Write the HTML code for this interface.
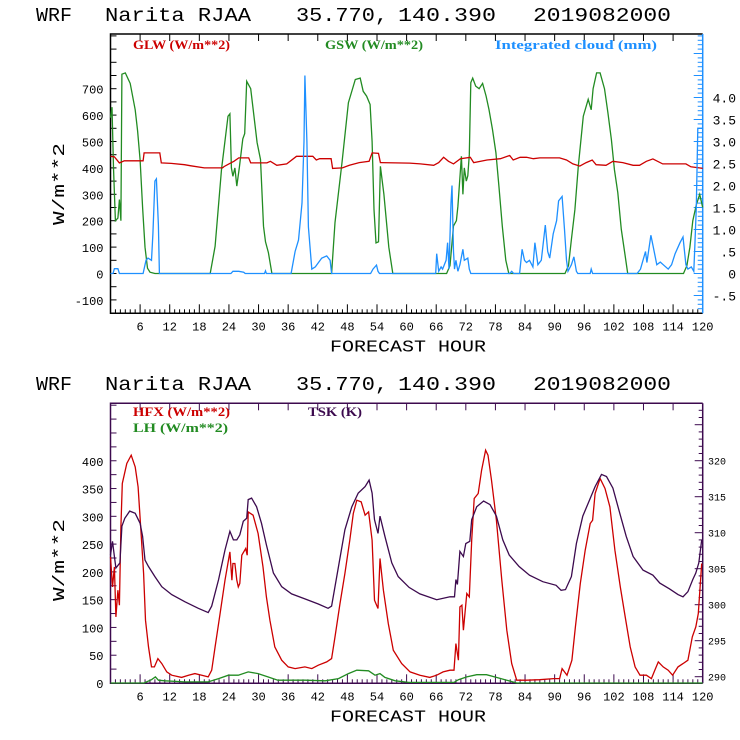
<!DOCTYPE html>
<html><head><meta charset="utf-8">
<style>
html,body{margin:0;padding:0;background:#fff;}
svg{display:block;}
text{font-family:"Liberation Mono",monospace;}
.leg{font-family:"Liberation Serif",serif;font-weight:bold;font-size:13px;}
</style></head>
<body>
<svg id="chart" width="740" height="740" viewBox="0 0 740 740" xmlns="http://www.w3.org/2000/svg">
  <rect x="0" y="0" width="740" height="740" fill="#fff"/>
</svg>
<script>
// ---------- DATA: top panel ----------
const gswHours=[0,0.3,0.6,1,1.5,1.8,2.1,2.3,3,4,5,5.5,6,6.5,7,7.5,8,9,20.2,21.2,22.5,23.8,24.2,24.5,24.8,25.2,25.6,26.1,26.8,27.2,27.6,28.4,29.7,30.4,31,31.4,32,32.7,44.8,45.5,46.9,48.2,49.6,50.6,51.2,51.9,52.6,53,53.4,53.8,54.3,54.7,55.4,56.4,57.2,68.1,68.8,69.5,70.1,70.4,71.1,71.4,71.7,72.1,72.4,72.7,73,73.4,74,74.7,75.4,76.1,76.7,77.4,78.1,78.7,79.4,80.1,80.7,92.1,92.8,93.4,94.1,94.8,95.8,96.8,97.4,97.8,98.5,99.2,100.1,100.8,101.5,102.1,102.8,103.5,104.2,104.8,116.1,116.8,117.4,118,118.7,119.4,120];
const gswVals=[590,630,400,200,210,280,200,755,760,720,620,540,430,250,100,20,5,0,0,103,394,596,605,400,368,400,331,400,510,530,728,700,496,432,179,120,79,0,0,193,420,647,735,740,690,672,640,500,242,116,120,406,300,100,0,0,30,180,200,255,444,300,400,350,370,450,723,740,710,700,720,672,621,545,458,331,179,50,0,0,30,129,242,406,596,660,620,700,760,760,700,609,507,394,306,167,79,0,0,30,100,200,260,300,250];

const glwHours=[0,0.8,1.8,2.8,6.6,6.8,10,10.3,12.3,15,16.3,19,22.7,23,24,25,26,28,28.4,31.7,32.4,33.7,35.7,37.7,41,41.7,42.4,44.7,45,47,48.4,50.4,52.4,53,54.3,54.7,60.6,62.8,65.5,66.5,67.5,68.5,69.5,70.9,72.9,73.6,76.3,79,80.9,81.6,83,84.3,85.7,87,91,92.4,93.7,95.1,96.4,97.6,98.4,100.4,101.8,103.8,105.9,107.2,108.6,109.9,111.9,113.9,116.6,117.6,119.3,120];
const glwVals=[444,442,419,427,427,457,457,419,417,412,408,400,400,405,415,425,438,438,419,419,425,410,415,444,444,430,435,435,398,400,410,420,425,457,455,420,418,415,410,420,440,425,415,435,440,420,430,435,447,430,440,440,435,438,438,430,415,407,420,430,412,410,425,420,410,410,425,434,415,415,415,404,400,398];

const cloudHours=[0,0.5,0.8,1.5,1.8,6.6,7.2,7.6,8.3,8.6,9,9.3,9.7,9.9,24.4,24.8,26,27,27.3,31.2,31.4,31.6,36.6,37.4,38.1,38.8,39.2,39.4,39.8,40.1,40.8,41.5,42.8,43.8,44.5,44.8,52.7,53.2,53.9,54.2,54.5,65.9,66.1,66.5,67,67.3,68,68.3,68.6,69,69.2,69.5,69.7,70,70.4,70.8,71.4,71.7,72.4,72.7,73,80.9,81.3,81.7,82.9,83.4,83.9,84.3,84.9,85.6,86,86.6,87.3,88.1,88.6,89,89.7,90.4,90.8,91.5,92,92.4,92.7,93.4,93.9,94.4,94.7,97.2,97.4,97.7,106.7,107.4,108.4,108.7,109.5,110,110.7,111.4,112,113,113.7,114.4,115.4,116,116.6,117,117.7,118.2,118.4,118.7,119,120];
const cloudVals=[0,0,0.11,0.11,0,0,0.3,0.35,0.3,0.9,2.1,2.15,1.1,0,0,0.05,0.05,0.03,0,0,0.06,0,0,0.5,0.76,1.6,3.0,4.5,3.0,1.06,0.1,0.15,0.35,0.4,0.3,0,0,0.1,0.19,0.05,0,0,0.45,0.05,0.15,0.1,0.3,0.7,0.1,1.6,2.0,0.5,0.1,0.3,0.05,0.2,0.55,0.3,0.35,0.1,0,0,0.05,0,0,0.55,0.3,0.25,0.3,0.15,0.7,0.2,0.3,1.1,0.5,0.35,0.9,1.2,1.65,1.75,1.0,0.3,0.05,0.2,0.38,0.05,0,0,0.1,0,0,0.1,0.5,0.25,0.87,0.6,0.2,0.26,0.2,0.1,0.2,0.45,0.7,0.83,0.2,0.1,0.15,0.05,0.6,1.5,3.3,3.3];

// ---------- DATA: bottom panel ----------
const hfxHours=[0,0.4,0.8,1.1,1.5,1.8,2.1,2.4,3.3,4.2,5,5.6,6.2,6.7,7.1,7.7,8.3,8.9,9.6,10.4,11.4,12.4,14.4,15.8,17.1,18.5,19.8,20.5,21.2,22.2,23.2,24.2,24.6,24.8,25.2,25.6,25.9,26.2,26.6,27.4,27.7,27.9,28.9,29.9,30.9,31.6,32.3,33.3,34.7,36,37.4,39.4,40.8,42.1,43.8,44.8,45.5,46.5,47.5,48.5,49.2,49.9,50.8,51.6,52.3,53,53.5,54.2,54.6,55.3,56.3,57.3,59,60.7,62.7,64.7,66.1,67.4,68.8,69.6,70,70.5,70.8,71.2,71.5,72.2,72.7,73.2,73.7,74.5,75.2,76,76.5,77.2,78.2,79.3,80.3,81.3,82.3,84.3,87,89.8,91,91.5,92.5,93.5,94.2,95.2,96.2,97.2,97.7,98.2,99.2,100.2,101.2,102.2,103.3,104.3,105.3,106.3,107.3,108.6,109.6,110.3,111,112,113,113.9,115,116,117,117.9,118.6,119.1,119.8];
const hfxVals=[227,173,209,119,167,140,281,359,395,410,389,353,269,197,113,65,29,29,44,35,20,14,10,14,17,14,11,23,65,125,185,236,185,215,215,185,173,179,230,242,230,308,302,269,209,155,113,65,41,29,26,29,26,32,38,44,83,143,197,257,305,329,326,302,308,257,149,134,224,167,107,59,35,20,14,10,14,20,23,23,71,41,137,140,95,161,155,257,332,341,383,419,410,365,293,185,95,35,5,5,6,8,8,26,14,41,101,179,239,287,293,341,368,350,317,239,173,119,65,29,14,14,8,23,38,29,23,14,29,35,41,83,101,125,215];

const tskHours=[0,0.4,0.8,1.1,1.9,2.3,2.9,3.9,5,6,6.5,7,7.7,9,10.4,12.4,15.1,17.8,19.8,20.5,21.9,23.2,24.2,24.9,25.6,26.2,26.9,27.6,27.9,28.6,29.6,30.6,31.6,33,34.7,36.7,39.4,42.1,44.1,44.8,46.2,47.5,48.9,50.2,51.6,52.4,53,53.5,54.2,54.6,55.6,57,58.3,60.5,62.7,66.1,68.8,69.7,70,70.3,70.8,71.5,72,72.8,73.2,74.2,75.6,76.9,78.2,79.5,80.8,82.8,84.9,87.6,90.3,91.3,92.2,93.4,94.4,95.7,97.1,98.2,99.5,100.5,101.8,103.2,104.5,105.9,107.9,109.9,111.3,113.3,115,116,117,118,118.6,119.2,119.8];
const tskVals=[306.9,308.8,306.7,305.1,305.8,310.9,312,313,312.7,311.3,309.5,306.2,305.3,303.9,302.5,301.4,300.4,299.5,298.9,299.8,303.5,307.6,310.2,309,309,309.7,311.6,312,314.6,314.8,313.6,311.3,308.3,304.4,302.5,301.5,300.8,300.1,299.5,299.8,305.3,310.4,313.6,315.5,316.4,317.3,315.5,311.8,309.9,312.3,309.5,305.8,303.9,302.4,301.5,300.7,301.1,301.1,303.5,302.8,307.4,306.7,308.5,308.8,311.8,313.6,314.4,313.9,312.3,309,306.9,305.3,304.1,303.2,302.7,302,302.1,303.9,308.5,312.3,314.6,316.4,318.1,317.8,316.2,312.7,309.5,306.7,304.8,304.1,303,302.2,301.4,301.1,301.8,303.5,304.4,305.8,309];

const lhHours=[0,6.8,8.3,9.1,9.7,11,15,19.8,21.9,23.9,25.9,27.9,29.9,31.9,33.9,39.4,43.5,46.2,48.2,49.9,52.3,53.6,54.6,55.6,57.7,60.4,69.6,70.5,72.2,74.2,76.2,78.2,80.3,82.3,120];
const lhVals=[0,0,6,11,5,4,2,2,8,14,14,20,17,11,5,5,4,8,17,23,22,14,17,10,4,1,1,6,11,15,15,10,5,0,0];

const xTickLabels=["6","12","18","24","30","36","42","48","54","60","66","72","78","84","90","96","102","108","114","120"];
const topLeftTicks=["-100","0","100","200","300","400","500","600","700"];
const topRightTicks=["-.5","0",".5","1.0","1.5","2.0","2.5","3.0","3.5","4.0"];
const botLeftTicks=["0","50","100","150","200","250","300","350","400"];
const botRightTicks=["290","295","300","305","310","315","320"];

// ---------- helpers ----------
const svg=document.getElementById('chart');
const NS='http://www.w3.org/2000/svg';
function mk(tag,attrs,parent){const e=document.createElementNS(NS,tag);for(const k in attrs)e.setAttribute(k,attrs[k]);(parent||svg).appendChild(e);return e;}
const X0=110.5, XS=4.935;
function xh(h){return X0+XS*h;}
const XL=110.5, XR=xh(120);

function path(hours,vals,yf,color,name){
  let d='';
  for(let i=0;i<hours.length;i++){d+=(i?'L':'M')+xh(hours[i]).toFixed(1)+','+yf(vals[i]).toFixed(1);}
  const p=mk('path',{d:d,fill:'none',stroke:color,'stroke-width':'1.3','stroke-linejoin':'miter'});
  
  
  return p;
}
function txt(s,x,y,opts){const t=mk('text',Object.assign({x:x,y:y},opts));t.textContent=s;return t;}

function titleRow(y0,prefix){
  const g=mk('g',{});
  
  
  const parts=[["WRF",36,36],["Narita RJAA",105,146],["35.770,",296,92],["140.390",398,98],["2019082000",533,138]];
  parts.forEach(p=>{const t=mk('text',{x:p[1],y:y0,'font-size':'19',textLength:p[2],lengthAdjust:'spacingAndGlyphs',fill:'#000'},g);t.textContent=p[0];});
}

function xAxis(yb,ytop,color,prefix){
  const g=mk('g',{});
  
  
  for(let h=1;h<120;h++){
    const major=h%6===0;
    mk('line',{x1:xh(h),x2:xh(h),y1:yb,y2:yb-(major?9:4),stroke:color,'stroke-width':1},g);
    if(major) mk('line',{x1:xh(h),x2:xh(h),y1:ytop,y2:ytop+7,stroke:color,'stroke-width':1},g);
  }
  xTickLabels.forEach((l,i)=>{
    const h=(i+1)*6;
    const t=txt(l,xh(h),yb+17,{'font-size':'12','text-anchor':'middle',fill:'#000'});
    g.appendChild(t);
  });
  const t=txt('FORECAST HOUR',408,yb+38,{'font-size':'17','text-anchor':'middle',fill:'#000',textLength:'156',lengthAdjust:'spacingAndGlyphs'});
  
  
}

function frame(top,bottom,color,rightColor,prefix){
  const r=mk('path',{d:`M${XR},${top}L${XL},${top}L${XL},${bottom}L${XR},${bottom}`,fill:'none',stroke:color,'stroke-width':'1.5'});
  
  
  const rl=mk('line',{x1:XR,x2:XR,y1:top,y2:bottom,stroke:rightColor,'stroke-width':'1.5'});
  
  
}

// ================= TOP PANEL =================
titleRow(21,'top');
const T_TOP=34,T_BOT=313.3;
function yTop(v){return 273.5-0.264*v;}
function yCloud(v){return 273.5-44*v;}
frame(T_TOP,T_BOT,'#000','#1e90ff','top');
for(let v=-150;v<=900;v+=50){const y=yTop(v);if(y<T_TOP||y>T_BOT)continue;mk('line',{x1:XL,x2:XL+6,y1:y,y2:y,stroke:'#000'});}
topLeftTicks.forEach(l=>{const v=+l;const t=txt(l,XL-7,yTop(v)+5,{'font-size':'12','text-anchor':'end',fill:'#000'});});
for(let k=-8;k<=54;k++){const v=k/10;const y=yCloud(v);if(y<T_TOP||y>T_BOT)continue;const major=k%5===0;mk('line',{x1:XR,x2:XR-(major?9:5),y1:y,y2:y,stroke:'#1e90ff'});}
topRightTicks.forEach(l=>{const v=parseFloat(l);const t=txt(l,736,yCloud(v)+5,{'font-size':'13','text-anchor':'end',fill:'#000'});});
xAxis(T_BOT,T_TOP,'#000','top');
{const t=txt('W/m**2',0,0,{'font-size':'17',transform:'translate(64,184) rotate(-90)','text-anchor':'middle',fill:'#000',textLength:'82',lengthAdjust:'spacingAndGlyphs'});}
{const t=txt('GLW (W/m**2)',133,49,{class:'leg',fill:'#cc0000',textLength:'97',lengthAdjust:'spacingAndGlyphs'});}
{const t=txt('GSW (W/m**2)',325,49,{class:'leg',fill:'#228b22',textLength:'98',lengthAdjust:'spacingAndGlyphs'});}
{const t=txt('Integrated cloud (mm)',495,49,{class:'leg',fill:'#1e90ff',textLength:'162',lengthAdjust:'spacingAndGlyphs'});}
path(gswHours,gswVals,yTop,'#228b22','gsw-line');
path(glwHours,glwVals,yTop,'#cc0000','glw-line');
path(cloudHours,cloudVals,yCloud,'#1e90ff','integrated-cloud-line');

// ================= BOTTOM PANEL =================
titleRow(390,'bottom');
const B_TOP=403.3,B_BOT=683.3;
function yB(v){return 683-0.5556*v;}
function yK(v){return 676.7-7.2*(v-290);}
const PUR='#3c0a4e';
frame(B_TOP,B_BOT,PUR,PUR,'bottom');
for(let v=25;v<=500;v+=25){const y=yB(v);if(y<B_TOP)continue;mk('line',{x1:XL,x2:XL+6,y1:y,y2:y,stroke:PUR});}
botLeftTicks.forEach(l=>{const v=+l;const t=txt(l,XL-7,yB(v)+5,{'font-size':'12','text-anchor':'end',fill:'#000'});});
for(let v=290;v<=328;v++){const y=yK(v);if(y<B_TOP)continue;const major=v%5===0;mk('line',{x1:XR,x2:XR-(major?8:4),y1:y,y2:y,stroke:PUR});}
botRightTicks.forEach(l=>{const v=+l;const t=txt(l,708,yK(v)+4,{'font-size':'10',fill:'#000'});});
xAxis(B_BOT,B_TOP,PUR,'bottom');
{const t=txt('W/m**2',0,0,{'font-size':'17',transform:'translate(64,560) rotate(-90)','text-anchor':'middle',fill:'#000',textLength:'82',lengthAdjust:'spacingAndGlyphs'});}
{const t=txt('HFX (W/m**2)',133,416,{class:'leg',fill:'#cc0000',textLength:'97',lengthAdjust:'spacingAndGlyphs'});}
{const t=txt('LH  (W/m**2)',133,432,{class:'leg',fill:'#228b22',textLength:'95',lengthAdjust:'spacingAndGlyphs'});}
{const t=txt('TSK (K)',308,416,{class:'leg',fill:PUR,textLength:'54',lengthAdjust:'spacingAndGlyphs'});}
path(lhHours,lhVals,yB,'#228b22','lh-line');
path(hfxHours,hfxVals,yB,'#cc0000','hfx-line');
path(tskHours,tskVals,yK,PUR,'tsk-line');
</script>
</body></html>
